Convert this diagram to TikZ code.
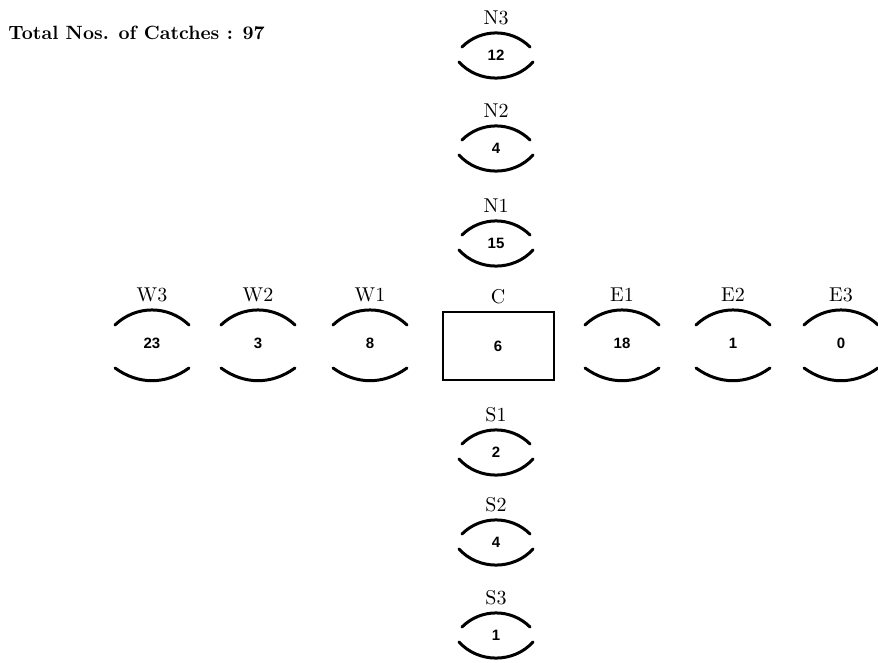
\documentclass[tikz,border=0pt]{standalone}
\usepackage{fontspec}
\usepackage{tikz}
\newfontfamily\countfont{Liberation Sans}

\tikzset{
  count/.style={font=\countfont\bfseries\fontsize{7.5}{8}\selectfont, inner sep=0pt},
  tag/.style={font=\fontsize{10}{11}\selectfont, inner sep=0pt},
  lid/.style={line width=1.5pt, line cap=round},
  cbox/.style={draw, line width=1pt, minimum width=55.5pt, minimum height=34pt}
}

\begin{document}
\begin{tikzpicture}[x=0.5pt,y=0.5pt]
    \useasboundingbox (0,0) rectangle (878,663);
    \node[anchor=west, inner sep=0pt, font=\bfseries\fontsize{9.6}{11}\selectfont] (total) at (8,630) {Total Nos. of Catches : 97};
    % centre trap
    \node[cbox, count] (C) at (498,317) {6};
    \node[tag] (C-tag) at (498,366) {C};
    % north and south arms
    \foreach \name/\x/\y/\cnt in {N3/496/608/12, N2/496/515/4, N1/496/420/15,
                                  S1/496/211/2, S2/496/121/4, S3/496/28/1}{
        \node[count] (\name) at (\x,\y) {\cnt};
        \node[tag] (\name-tag) at (\x,\y+37) {\name};
        \draw[lid] (\x-34,\y+8) to[bend left=45] (\x+34,\y+8);
        \draw[lid] (\x-37,\y-7) to[bend right=48] (\x+37,\y-7);
    }
    % west and east arms
    \foreach \name/\x/\y/\cnt in {W3/152/320/23, W2/258/320/3, W1/370/320/8,
                                  E1/622/320/18, E2/733/320/1, E3/841/320/0}{
        \node[count] (\name) at (\x,\y) {\cnt};
        \node[tag] (\name-tag) at (\x,\y+48) {\name};
        \draw[lid] (\x-37,\y+18) to[bend left=44] (\x+37,\y+18);
        \draw[lid] (\x-37,\y-25) to[bend right=36] (\x+37,\y-25);
    }
\end{tikzpicture}
\end{document}
